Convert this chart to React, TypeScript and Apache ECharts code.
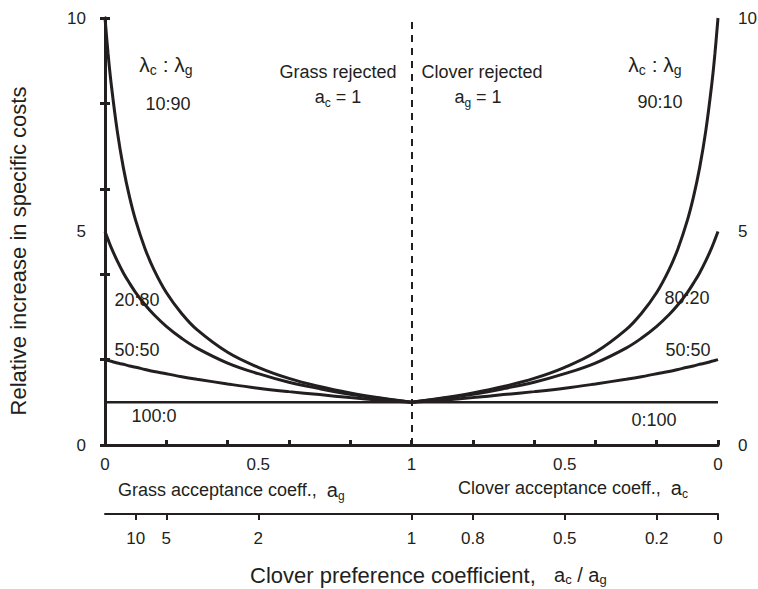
import React, { useEffect, useRef } from 'react';
import * as echarts from 'echarts';

const FONT = '"Liberation Sans", Arial, Helvetica, sans-serif';
const INK = '#231f20';

// acceptance coefficient (a_g on the left half, a_c on the right half)
const acceptance = [0, 0.01, 0.02, 0.04, 0.06, 0.08, 0.1, 0.13, 0.16, 0.2, 0.25, 0.3, 0.4, 0.5, 0.6, 0.7, 0.8, 0.9, 1];

// Grass rejected (a_c = 1), left half, λc:λg
const cost10_90 = [10, 9.17, 8.47, 7.35, 6.49, 5.81, 5.26, 4.61, 4.1, 3.57, 3.08, 2.7, 2.17, 1.82, 1.56, 1.37, 1.22, 1.1, 1];
const cost20_80 = [5, 4.81, 4.63, 4.31, 4.03, 3.79, 3.57, 3.29, 3.05, 2.78, 2.5, 2.27, 1.92, 1.67, 1.47, 1.32, 1.19, 1.09, 1];
const cost50_50L = [2, 1.98, 1.96, 1.92, 1.89, 1.85, 1.82, 1.77, 1.72, 1.67, 1.6, 1.54, 1.43, 1.33, 1.25, 1.18, 1.11, 1.05, 1];

// Clover rejected (a_g = 1), right half, λc:λg
const cost90_10 = [10, 9.17, 8.47, 7.35, 6.49, 5.81, 5.26, 4.61, 4.1, 3.57, 3.08, 2.7, 2.17, 1.82, 1.56, 1.37, 1.22, 1.1, 1];
const cost80_20 = [5, 4.81, 4.63, 4.31, 4.03, 3.79, 3.57, 3.29, 3.05, 2.78, 2.5, 2.27, 1.92, 1.67, 1.47, 1.32, 1.19, 1.09, 1];
const cost50_50R = [2, 1.98, 1.96, 1.92, 1.89, 1.85, 1.82, 1.77, 1.72, 1.67, 1.6, 1.54, 1.43, 1.33, 1.25, 1.18, 1.11, 1.05, 1];

// 100:0 and 0:100 (flat at 1)
const flatAcceptance = [0, 1];
const cost100_0 = [1, 1];
const cost0_100 = [1, 1];

// axis tick labels
const acceptanceTickPos = [0, 0.5, 1, 1.5, 2];
const acceptanceTickLabels = ['0', '0.5', '1', '0.5', '0'];
const ratioTicks = [10, 5, 2, 1, 0.8, 0.5, 0.2, 0];
const ratioTickLabels = ['10', '5', '2', '1', '0.8', '0.5', '0.2', '0'];
const yLabelValues = [0, 5, 10];

const leftPos = (a: number) => a;
const rightPos = (a: number) => 2 - a;
const ratioPos = (r: number) => (r >= 1 ? 1 / r : 2 - r);

const RICH = {
  m: { fontSize: 18, fontFamily: FONT, fill: INK, lineHeight: 24, verticalAlign: 'middle' },
  s: { fontSize: 12, fontFamily: FONT, fill: INK, lineHeight: 12, verticalAlign: 'bottom' },
  L: { fontSize: 21, fontFamily: FONT, fill: INK, lineHeight: 26, verticalAlign: 'middle' },
  ls: { fontSize: 14, fontFamily: FONT, fill: INK, lineHeight: 14, verticalAlign: 'bottom' },
  a: { fontSize: 20, fontFamily: FONT, fill: INK, lineHeight: 22, verticalAlign: 'middle' },
  t: { fontSize: 22, fontFamily: FONT, fill: INK, lineHeight: 22, verticalAlign: 'middle' },
  ts: { fontSize: 13, fontFamily: FONT, fill: INK, lineHeight: 11, verticalAlign: 'bottom' },
};

function txt(x: number, y: number, text: string, align = 'center', size = 18) {
  return {
    type: 'text',
    x,
    y,
    silent: true,
    style: {
      text,
      fill: INK,
      fontSize: size,
      fontFamily: FONT,
      align,
      verticalAlign: 'middle',
      rich: RICH,
    },
  };
}

function curve(name: string, xs: number[], ys: number[], width = 3) {
  return {
    type: 'line',
    name,
    data: xs.map((x, i) => [x, ys[i]]),
    showSymbol: false,
    smooth: 0.4,
    silent: true,
    clip: false,
    lineStyle: { color: INK, width },
    z: 3,
  };
}

function nearestLabel(v: number, pos: number[], labels: string[]) {
  const i = pos.findIndex((p) => Math.abs(p - v) < 1e-6);
  return i >= 0 ? labels[i] : '';
}

export default function App() {
  const ref = useRef<HTMLDivElement>(null);
  useEffect(() => {
    if (!ref.current) return;
    const chart = echarts.init(ref.current, null, { renderer: 'svg' });
    const ratioPositions = ratioTicks.map(ratioPos);
    const axisLabelBase = { color: INK, fontSize: 17, fontFamily: FONT };
    const yAxisBase = {
      type: 'value',
      min: 0,
      max: 10,
      interval: 2,
      axisLine: { show: true, lineStyle: { color: INK, width: 3 } },
      axisTick: { show: true, inside: true, length: 5, lineStyle: { color: INK, width: 3 } },
      axisLabel: { ...axisLabelBase, customValues: yLabelValues, formatter: (v: number) => String(v) },
      splitLine: { show: false },
    };
    const option = {
      animation: false,
      backgroundColor: '#ffffff',
      grid: { left: 105, right: 40, top: 18, bottom: 144, containLabel: false, outerBoundsMode: 'none' },
      xAxis: [
        {
          type: 'value',
          min: 0,
          max: 2,
          interval: 0.2,
          position: 'bottom',
          axisLine: { show: true, onZero: false, lineStyle: { color: INK, width: 3 } },
          axisTick: { show: true, inside: true, length: 5, lineStyle: { color: INK, width: 3 } },
          axisLabel: {
            ...axisLabelBase,
            margin: 11,
            customValues: acceptanceTickPos,
            formatter: (v: number) => nearestLabel(v, acceptanceTickPos, acceptanceTickLabels),
          },
          splitLine: { show: false },
        },
        {
          type: 'value',
          min: 0,
          max: 2,
          position: 'bottom',
          offset: 69,
          axisLine: { show: true, onZero: false, lineStyle: { color: INK, width: 2 } },
          axisTick: { show: true, inside: false, length: 6, customValues: ratioPositions, lineStyle: { color: INK, width: 2 } },
          axisLabel: {
            ...axisLabelBase,
            margin: 16,
            customValues: ratioPositions,
            formatter: (v: number) => nearestLabel(v, ratioPositions, ratioTickLabels),
          },
          splitLine: { show: false },
        },
      ],
      yAxis: [
        { ...yAxisBase, position: 'left', axisLabel: { ...yAxisBase.axisLabel, margin: 19 } },
        { ...yAxisBase, position: 'right', axisLabel: { ...yAxisBase.axisLabel, margin: 20 } },
      ],
      series: [
        curve('10:90', acceptance.map(leftPos), cost10_90),
        curve('20:80', acceptance.map(leftPos), cost20_80),
        curve('50:50 (grass rejected)', acceptance.map(leftPos), cost50_50L),
        curve('90:10', acceptance.map(rightPos), cost90_10),
        curve('80:20', acceptance.map(rightPos), cost80_20),
        curve('50:50 (clover rejected)', acceptance.map(rightPos), cost50_50R),
        curve('100:0', flatAcceptance.map(leftPos), cost100_0, 2.5),
        {
          ...curve('0:100', flatAcceptance.map(rightPos), cost0_100, 2.5),
          markLine: {
            silent: true,
            symbol: ['none', 'none'],
            label: { show: false },
            lineStyle: { color: INK, width: 2, type: [7, 6] },
            data: [{ xAxis: 1 }],
          },
        },
      ],
      graphic: [
        txt(166, 64, '{L|λ}{ls|c}{L| : λ}{ls|g}'),
        txt(168, 104, '10:90'),
        txt(655, 64, '{L|λ}{ls|c}{L| : λ}{ls|g}'),
        txt(660, 102, '90:10'),
        txt(338, 72, 'Grass rejected'),
        txt(338, 97, '{m|a}{s|c}{m| = 1}'),
        txt(482, 72, 'Clover rejected'),
        txt(478, 97, '{m|a}{s|g}{m| = 1}'),
        txt(137, 300, '20:80'),
        txt(137, 350, '50:50'),
        txt(154, 416, '100:0'),
        txt(687, 298, '80:20'),
        txt(688, 350, '50:50'),
        txt(654, 420, '0:100'),
        txt(118, 490, '{m|Grass acceptance coeff.,  }{a|a}{s|g}', 'left'),
        txt(458, 488, '{m|Clover acceptance coeff.,  }{a|a}{s|c}', 'left'),
        txt(250, 575, '{t|Clover preference coefficient,   }{a|a}{ts|c}{a| / a}{ts|g}', 'left', 22),
        {
          type: 'text',
          x: 18,
          y: 251,
          rotation: Math.PI / 2,
          silent: true,
          style: {
            text: 'Relative increase in specific costs',
            fill: INK,
            fontSize: 22,
            fontFamily: FONT,
            align: 'center',
            verticalAlign: 'middle',
          },
        },
      ],
    };
    chart.setOption(option as any);
    return () => chart.dispose();
  }, []);
  return <div ref={ref} style={{ position: 'fixed', left: 0, top: 0, width: 758, height: 589 }} />;
}
